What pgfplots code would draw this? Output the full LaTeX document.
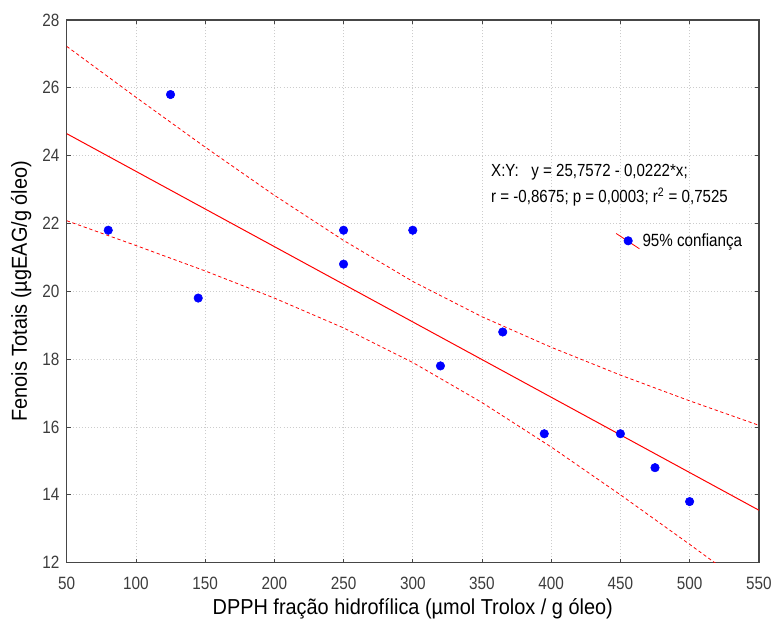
\documentclass[border=0pt]{standalone}
\usepackage{fontspec}
\setmainfont{Liberation Sans}
\newfontfamily\narrowfont{Liberation Sans}[FakeStretch=0.86]
\newfontfamily\labfont{Liberation Sans}[FakeStretch=0.92]
\usepackage{pgfplots}
\pgfplotsset{compat=1.18}
\definecolor{tickgray}{RGB}{60,60,60}
\definecolor{framegray}{RGB}{70,70,70}
\begin{document}
\begin{tikzpicture}
\begin{axis}[
  at={(0,0)}, anchor=south west,
  scale only axis, width=521.25pt, height=408.75pt,
  xmin=50, xmax=550, ymin=12, ymax=28,
  xtick={50,100,...,550}, ytick={12,14,...,28},
  grid=major, major grid style={gray!40, line width=0.6pt, dash pattern=on 0.7pt off 1.6pt},
  tick align=inside, major tick length=3pt,
  tick style={framegray, line width=0.6pt},
  axis line style={framegray, line width=1.1pt},
  /pgf/number format/assume math mode=true,
  ticklabel style={font=\narrowfont\fontsize{13.4}{15}\selectfont, text=tickgray},
  xticklabel style={yshift=-7.5pt},
  yticklabel style={xshift=-2pt},
  xlabel={DPPH fração hidrofílica (µmol Trolox / g óleo)},
  ylabel={Fenois Totais (µgEAG/g óleo)},
  label style={font=\labfont\fontsize{16.3}{18}\selectfont},
  xlabel style={at={(axis description cs:0.5,-0.095)}, anchor=base},
  ylabel style={at={(axis description cs:-0.066,0.5)}, anchor=center},
  legend style={draw=none, fill=none, at={(axis description cs:0.793,0.593)}, anchor=west,
    font=\narrowfont\fontsize{13.3}{15}\selectfont, inner sep=0pt},
  legend cell align=left,
  legend image code/.code={
    \draw[red, line width=0.6pt] (-1pt,5.5pt) -- (16.5pt,-6pt);
    \fill[blue] (8pt,0pt) circle (3.2pt);
  },
  clip=true,
]
% 95% confidence bands
\addplot[red, line width=0.6pt, dash pattern=on 2.5pt off 2pt, forget plot] coordinates {
 (50,27.22) (100,25.72) (150,24.25) (200,22.83) (250,21.50) (300,20.29)
 (350,19.25) (400,18.35) (450,17.53) (500,16.77) (550,16.05)};
\addplot[red, line width=0.6pt, dash pattern=on 2.5pt off 2pt, forget plot] coordinates {
 (50,22.08) (100,21.35) (150,20.60) (200,19.80) (250,18.92) (300,17.90)
 (350,16.72) (400,15.41) (450,14.00) (500,12.54) (550,11.05)};
% regression line
\addplot[red, line width=0.75pt, forget plot] coordinates {(50,24.647) (550,13.547)};
% data
\addplot[only marks, mark=*, mark size=3.2pt, blue, mark options={draw=blue, fill=blue}] coordinates {
 (80,21.8) (125,25.8) (145,19.8) (250,21.8) (250,20.8) (300,21.8)
 (320,17.8) (365,18.8) (395,15.8) (450,15.8) (475,14.8) (500,13.8)};
\addlegendentry{95\% confiança}
\node[anchor=west, align=left, font=\narrowfont\fontsize{13.2}{19.5}\selectfont, inner sep=0pt]
  at (axis description cs:0.613,0.696)
  {X:Y:\ \ \ y = 25,7572 - 0,0222*x;\\ r = -0,8675; p = 0,0003; r\textsuperscript{2} = 0,7525};
\end{axis}
\path (-50.25pt,-45.75pt) rectangle (531.75pt,423.75pt);
\end{tikzpicture}
\end{document}
